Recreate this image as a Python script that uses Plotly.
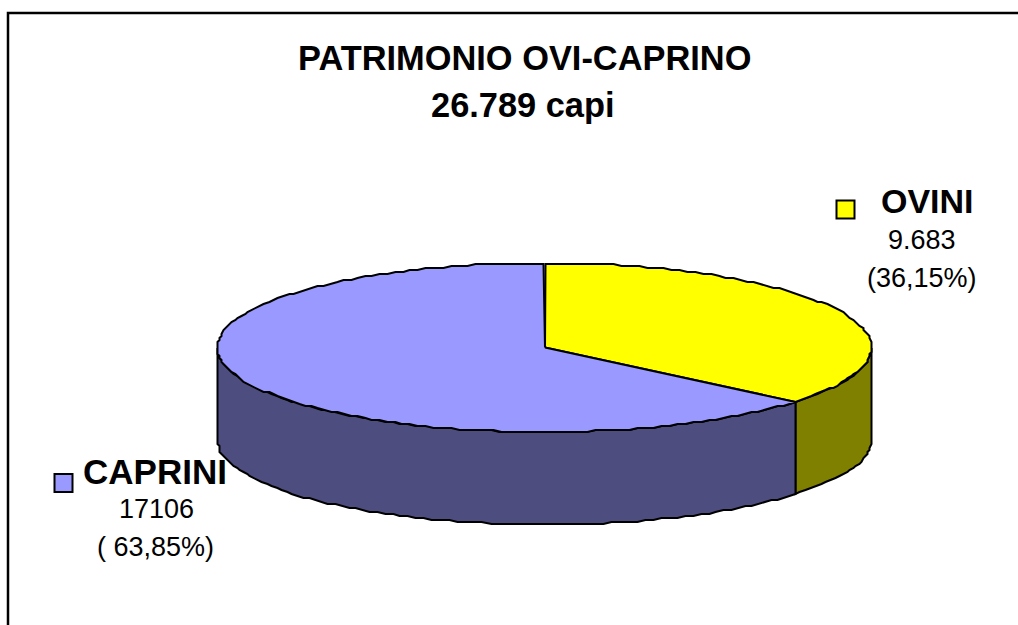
import numpy as np
import plotly.graph_objects as go

# --- data ---
categories = ["OVINI", "CAPRINI"]
values = [9683, 17106]
value_labels = ["9.683", "17106"]
percent_labels = ["(36,15%)", "( 63,85%)"]
top_colors = ["#FFFF00", "#9999FF"]
side_colors = ["#808000", "#4D4D80"]
title_lines = ["PATRIMONIO OVI-CAPRINO", "26.789 capi"]

# --- pie geometry (pixels) ---
W, H = 1018, 625
CX, CY, RX, RY, DEPTH = 545, 347.5, 327, 84.5, 92.5
FONT = "Liberation Sans, Arial, sans-serif"
JAG = 2.0


def rim(t, dy=0.0):
    x = CX + RX * np.sin(t)
    y = CY - RY * np.cos(t) + dy
    return np.floor(x / JAG + 0.5) * JAG - 0.5, np.floor(y / JAG + 0.5) * JAG


def arc(a, b):
    n = max(int(abs(b - a) / (2 * np.pi) * 240), 2)
    return np.linspace(a, b, n)


fractions = np.array(values) / sum(values)
edges = np.concatenate([[0], np.cumsum(fractions)]) * 2 * np.pi

fig = go.Figure()


def poly(xs, ys, fill, width=2):
    fig.add_trace(go.Scatter(
        x=xs, y=ys, mode="lines", fill="toself" if fill else None,
        fillcolor=fill, line=dict(color="black", width=width),
        hoverinfo="skip", showlegend=False))


# side walls: only the front half (90..270 degrees) is visible
for i in range(len(values)):
    a = max(edges[i], np.pi / 2)
    b = min(edges[i + 1], 3 * np.pi / 2)
    if b <= a:
        continue
    t = arc(a, b)
    xt, yt = rim(t)
    xb, yb = rim(t[::-1], DEPTH)
    poly(np.r_[xt, xb, xt[0]], np.r_[yt, yb, yt[0]], side_colors[i])

# top faces
for i in range(len(values)):
    t = arc(edges[i], edges[i + 1])
    xt, yt = rim(t)
    poly(np.r_[CX, xt, CX], np.r_[CY, yt, CY], top_colors[i])

# frame of the chart area
fig.add_trace(go.Scatter(x=[8, 8, 1040], y=[650, 13, 13], mode="lines",
                         line=dict(color="black", width=2.5),
                         hoverinfo="skip", showlegend=False))

# legend swatches
swatch_x = [845.5, 63.5]
swatch_y = [209.5, 483]
fig.add_trace(go.Scatter(
    x=swatch_x, y=swatch_y, mode="markers",
    marker=dict(symbol="square", size=18, color=top_colors,
                line=dict(color="black", width=2)),
    hoverinfo="skip", showlegend=False))


def label(x, y, text, size, bold=False):
    fig.add_annotation(x=x, y=y, text=f"<b>{text}</b>" if bold else text,
                       showarrow=False, xanchor="center", yanchor="middle",
                       font=dict(family=FONT, size=size, color="black"))


label(524, 58, title_lines[0], 34.4, True)
label(523, 105, title_lines[1], 34.4, True)
label(927.5, 201, categories[0], 34, True)
label(921.5, 240, value_labels[0], 27)
label(922, 278, percent_labels[0], 27)
label(155, 471, categories[1], 35, True)
label(156, 509, value_labels[1], 27)
label(155.5, 547, percent_labels[1], 27)

fig.update_layout(
    width=W, height=H, margin=dict(l=0, r=0, t=0, b=0),
    paper_bgcolor="white", plot_bgcolor="white", showlegend=False,
    xaxis=dict(range=[0, W], visible=False, fixedrange=True),
    yaxis=dict(range=[H, 0], visible=False, fixedrange=True),
)
fig.write_html("out.html", config={"displayModeBar": False},
               post_script="document.body.style.margin='0';document.body.style.overflow='hidden';")
